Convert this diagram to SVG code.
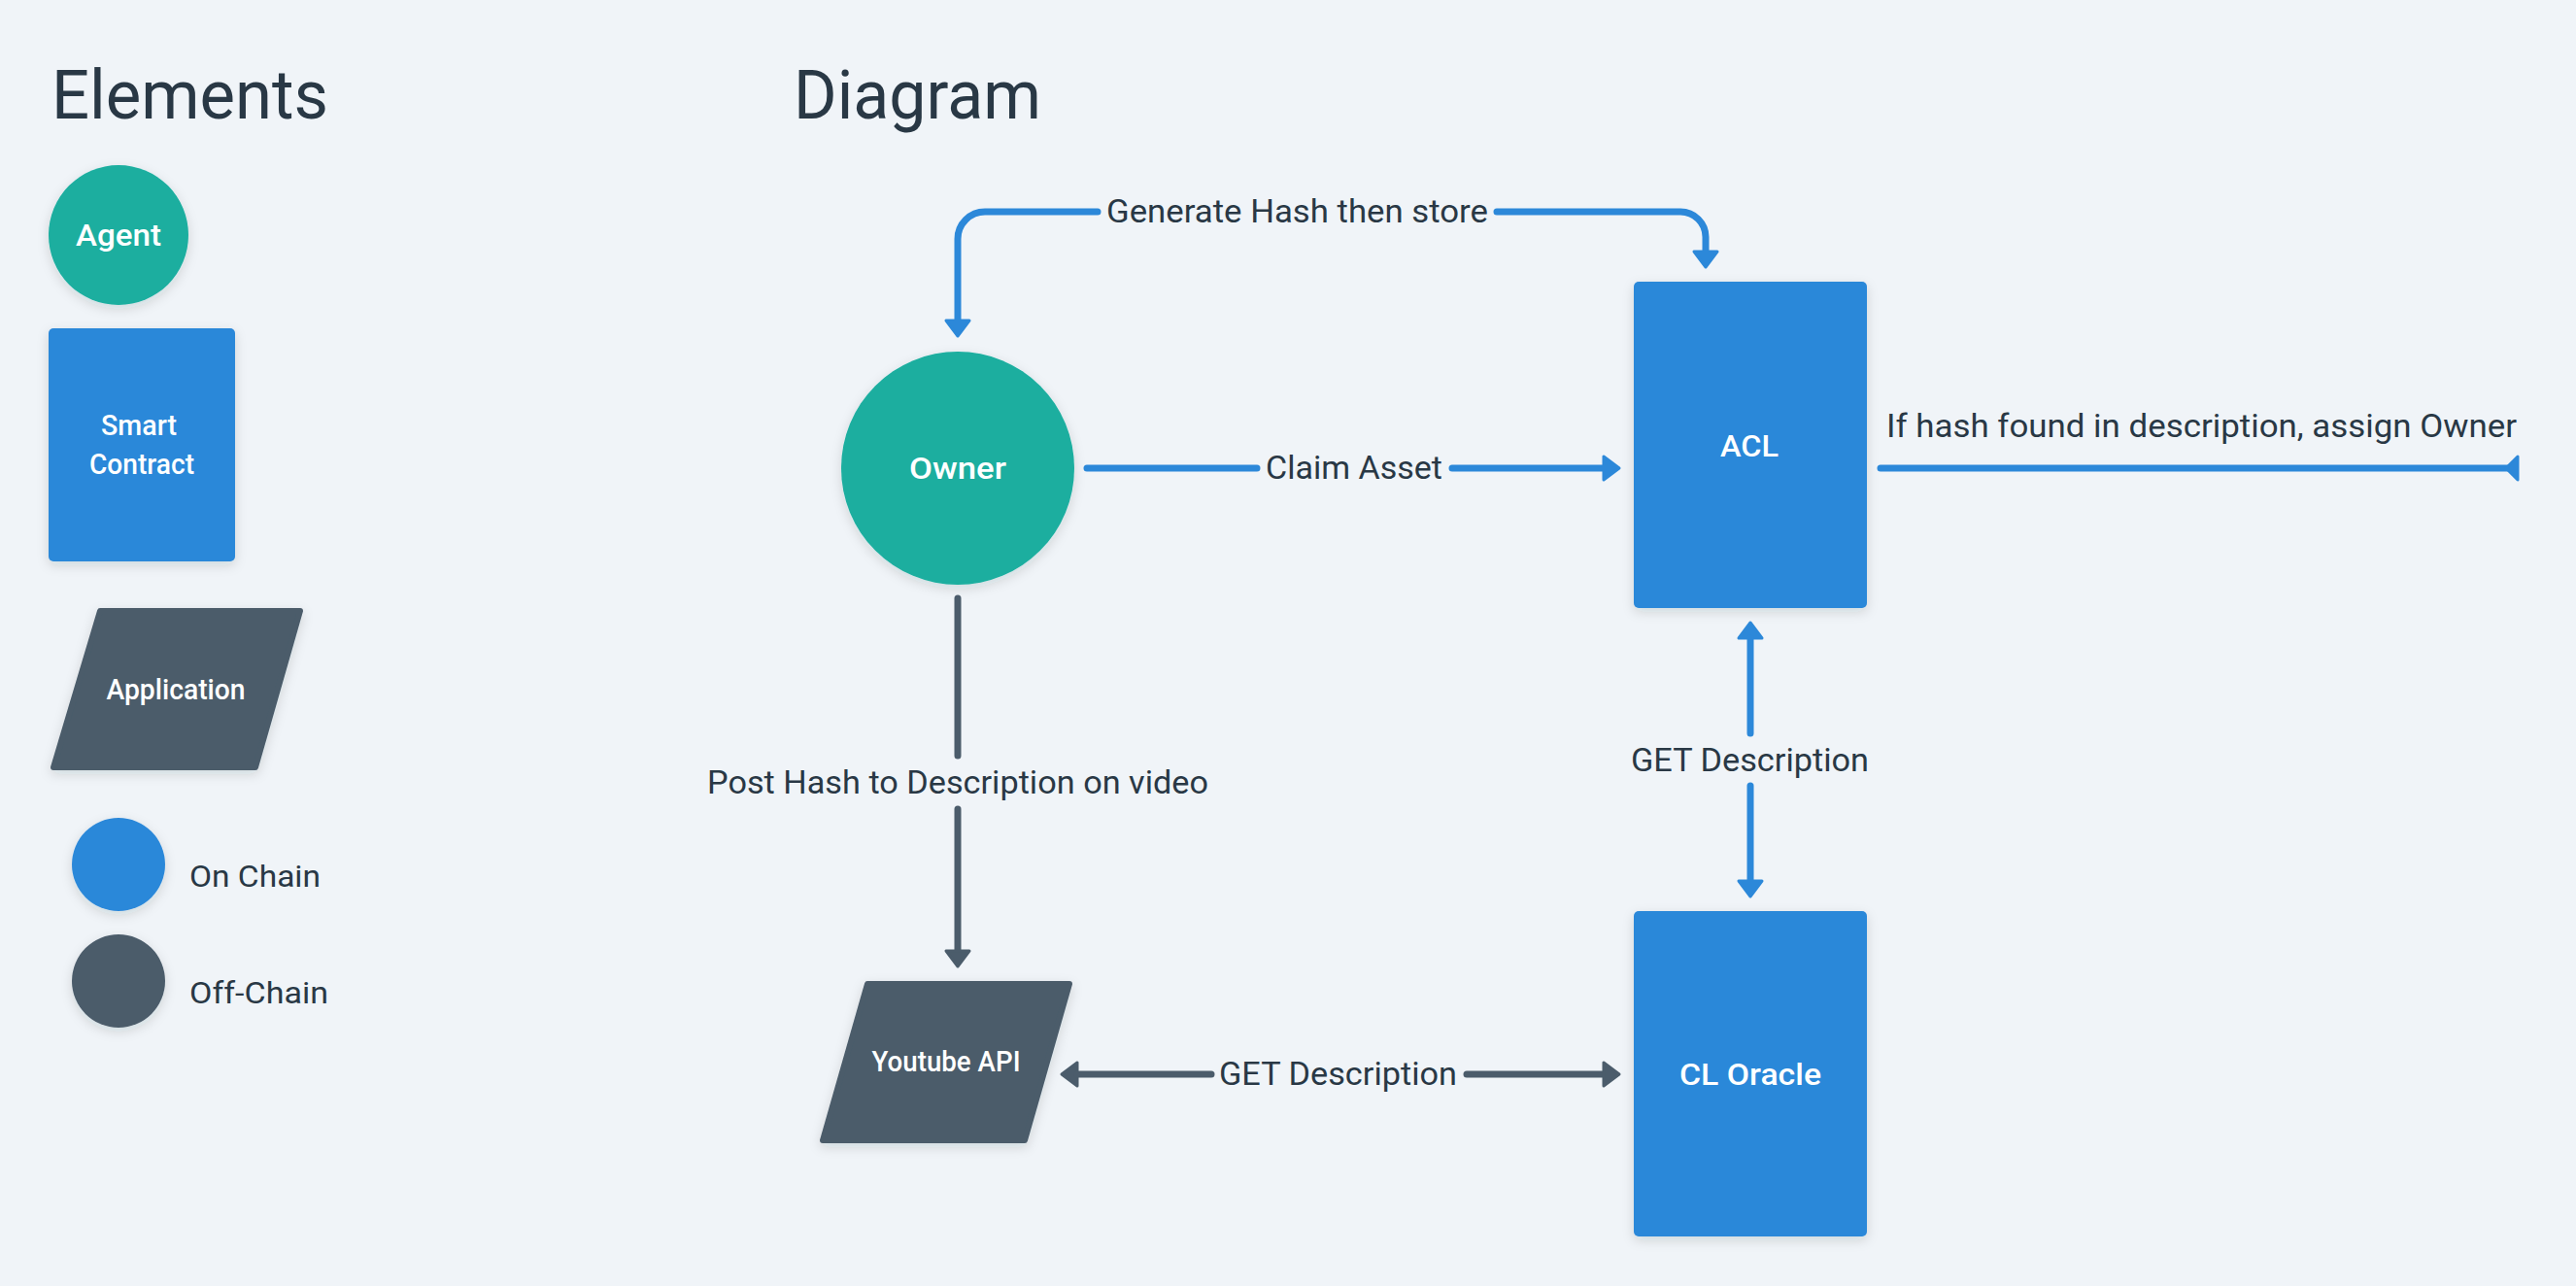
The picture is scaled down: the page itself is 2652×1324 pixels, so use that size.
<svg xmlns="http://www.w3.org/2000/svg" width="2652" height="1324" viewBox="0 0 2652 1324">
<defs>
<filter id="sh" x="-20%" y="-20%" width="140%" height="140%">
<feDropShadow dx="0" dy="4" stdDeviation="6" flood-color="#1d2b38" flood-opacity="0.14"/>
</filter>
</defs>
<style>
text{font-family:Roboto,"Liberation Sans",sans-serif}
.title{font-size:70px;fill:#293845;font-weight:400}
.lbl{font-size:34px;fill:#293845;font-weight:400}
.leg{font-size:32px;fill:#293845;font-weight:400}
.nl{font-size:32px;fill:#ffffff;font-weight:500;text-anchor:middle}
.ns{font-size:29px;fill:#ffffff;font-weight:500;text-anchor:middle}
.blue{fill:#2c88d9}
.teal{fill:#1aae9f}
.gray{fill:#4b5c6b}
.pg{fill:#4b5c6b;stroke:#4b5c6b;stroke-width:6;stroke-linejoin:round}
.lb{fill:none;stroke:#2c88d9;stroke-width:7;stroke-linecap:round}
.lg{fill:none;stroke:#4b5c6b;stroke-width:7;stroke-linecap:round}
.ab{fill:#2c88d9;stroke:#2c88d9;stroke-width:3;stroke-linejoin:round}
.ag{fill:#4b5c6b;stroke:#4b5c6b;stroke-width:3;stroke-linejoin:round}
</style>
<rect x="0" y="0" width="2652" height="1324" fill="#f0f4f8"/>

<g id="titles">
<text class="title" x="53" y="122" textLength="285" lengthAdjust="spacingAndGlyphs">Elements</text>
<text class="title" x="817" y="122" textLength="255" lengthAdjust="spacingAndGlyphs">Diagram</text>
</g>

<g id="legend-agent">
<circle class="teal" cx="122" cy="242" r="72" filter="url(#sh)"/>
<text class="nl" x="122" y="253" textLength="88" lengthAdjust="spacingAndGlyphs">Agent</text>
</g>
<g id="legend-smart-contract">
<rect class="blue" x="50" y="338" width="192" height="240" rx="5" filter="url(#sh)"/>
<text class="ns" x="143" y="448" textLength="78" lengthAdjust="spacingAndGlyphs">Smart</text>
<text class="ns" x="146" y="488" textLength="108" lengthAdjust="spacingAndGlyphs">Contract</text>
</g>
<g id="legend-application">
<polygon class="pg" points="103,629 309,629 263,790 55,790" filter="url(#sh)"/>
<text class="ns" x="181" y="720" textLength="143" lengthAdjust="spacingAndGlyphs">Application</text>
</g>
<g id="legend-on-chain">
<circle class="blue" cx="122" cy="890" r="48" filter="url(#sh)"/>
<text class="leg" x="195" y="913" textLength="135" lengthAdjust="spacingAndGlyphs">On Chain</text>
</g>
<g id="legend-off-chain">
<circle class="gray" cx="122" cy="1010" r="48" filter="url(#sh)"/>
<text class="leg" x="195" y="1033" textLength="143" lengthAdjust="spacingAndGlyphs">Off-Chain</text>
</g>

<g id="owner">
<circle class="teal" cx="986" cy="482" r="120" filter="url(#sh)"/>
<text class="nl" x="986" y="493" textLength="100" lengthAdjust="spacingAndGlyphs">Owner</text>
</g>
<g id="acl">
<rect class="blue" x="1682" y="290" width="240" height="336" rx="5" filter="url(#sh)"/>
<text class="nl" x="1801" y="470" textLength="60" lengthAdjust="spacingAndGlyphs">ACL</text>
</g>
<g id="youtube-api">
<polygon class="pg" points="893,1013 1101,1013 1055,1174 847,1174" filter="url(#sh)"/>
<text class="ns" x="974" y="1103" textLength="153" lengthAdjust="spacingAndGlyphs">Youtube API</text>
</g>
<g id="cl-oracle">
<rect class="blue" x="1682" y="938" width="240" height="335" rx="5" filter="url(#sh)"/>
<text class="nl" x="1802" y="1117" textLength="146" lengthAdjust="spacingAndGlyphs">CL Oracle</text>
</g>

<g id="connectors">
<!-- Generate Hash then store -->
<path class="lb" d="M1130 218 H1014 A28 28 0 0 0 986 246 V330"/>
<polygon class="ab" points="974,330 998,330 986,346"/>
<path class="lb" d="M1541 218 H1730 A26 26 0 0 1 1756 244 V259"/>
<polygon class="ab" points="1744,259 1768,259 1756,275"/>
<text class="lbl" x="1139" y="229" textLength="393" lengthAdjust="spacingAndGlyphs">Generate Hash then store</text>

<!-- Claim Asset -->
<path class="lb" d="M1119 482 H1294"/>
<path class="lb" d="M1495 482 H1651"/>
<polygon class="ab" points="1651,470 1651,494 1667,482"/>
<text class="lbl" x="1303" y="493" textLength="182" lengthAdjust="spacingAndGlyphs">Claim Asset</text>

<!-- If hash found -->
<path class="lb" d="M1936 482 H2582"/>
<polygon class="ab" points="2592,470 2592,494 2580,482"/>
<text class="lbl" x="1942" y="450" textLength="649" lengthAdjust="spacingAndGlyphs">If hash found in description, assign Owner</text>

<!-- Post Hash to Description on video -->
<path class="lg" d="M986 616 V778"/>
<path class="lg" d="M986 833 V979"/>
<polygon class="ag" points="974,979 998,979 986,995"/>
<text class="lbl" x="728" y="817" textLength="516" lengthAdjust="spacingAndGlyphs">Post Hash to Description on video</text>

<!-- GET Description (Youtube - Oracle) -->
<polygon class="ag" points="1109,1094 1109,1118 1093,1106"/>
<path class="lg" d="M1109 1106 H1247"/>
<path class="lg" d="M1510 1106 H1651"/>
<polygon class="ag" points="1651,1094 1651,1118 1667,1106"/>
<text class="lbl" x="1255" y="1117" textLength="245" lengthAdjust="spacingAndGlyphs">GET Description</text>

<!-- GET Description (ACL - Oracle) -->
<polygon class="ab" points="1790,657 1814,657 1802,641"/>
<path class="lb" d="M1802 657 V755"/>
<path class="lb" d="M1802 809 V907"/>
<polygon class="ab" points="1790,907 1814,907 1802,923"/>
<text class="lbl" x="1679" y="794" textLength="245" lengthAdjust="spacingAndGlyphs">GET Description</text>
</g>
</svg>
